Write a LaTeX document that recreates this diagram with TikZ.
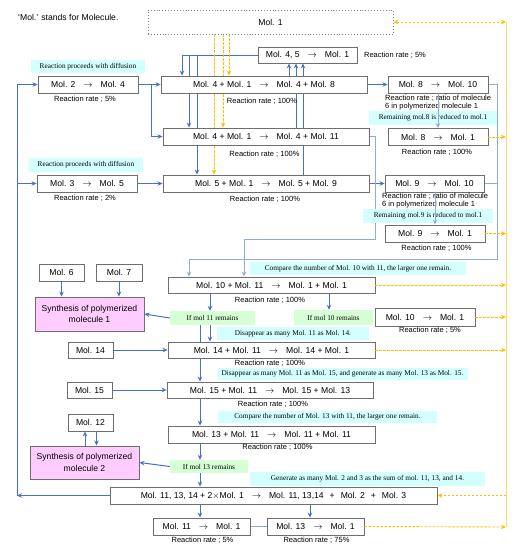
\documentclass[tikz,border=0pt]{standalone}
\usepackage{fontspec}
\setmainfont{Liberation Sans}
\newfontfamily\remarkfont{Liberation Serif}
\usetikzlibrary{arrows.meta,backgrounds}

\definecolor{flowblue}{RGB}{68,114,196}
\definecolor{paleblue}{RGB}{143,170,220}
\definecolor{flowgold}{RGB}{255,192,0}
\definecolor{linegold}{RGB}{255,217,102}
\definecolor{remarkcyan}{RGB}{212,255,255}
\definecolor{remarkgreen}{RGB}{214,255,214}
\definecolor{synthpink}{RGB}{255,204,255}
\definecolor{boxgray}{RGB}{110,110,110}

\newcommand{\yields}{\hspace{8pt}$\rightarrow$\hspace{8pt}}

\begin{document}
\begin{tikzpicture}[
    molbox/.style={draw=boxgray, fill=white, line width=0.9pt, minimum height=17pt, inner sep=0pt, font=\fontsize{8.6}{10}\selectfont},
    synthbox/.style={molbox, fill=synthpink, align=center, font=\fontsize{8.6}{11.5}\selectfont},
    ratetext/.style={inner sep=0pt, font=\fontsize{7.5}{8}\selectfont},
    cyanremark/.style={fill=remarkcyan, inner sep=0pt, minimum height=13pt, font=\remarkfont\fontsize{7.3}{8}\selectfont},
    greenremark/.style={cyanremark, fill=remarkgreen, minimum height=14pt},
    flow/.style={flowblue, line width=1pt, -{Stealth[length=5pt,width=4.5pt]}},
    paleflow/.style={paleblue, line width=0.9pt},
    goldflow/.style={flowgold, line width=0.9pt, dash pattern=on 2.5pt off 1.5pt, -{Stealth[length=5pt,width=4.5pt]}},
  ]
\useasboundingbox (0,0) rectangle (519pt,-550pt);

\node[anchor=west, inner sep=0pt, font=\fontsize{8.6}{10}\selectfont] (legend) at (18pt,-17pt) {`Mol.' stands for Molecule.};
\node[molbox, draw=gray, dotted, minimum width=245pt, minimum height=24pt] (mol1) at (270.5pt,-22pt) {Mol. 1};

% upper reactions
\node[molbox, minimum width=99pt, minimum height=16pt] (red45) at (307.5pt,-55pt) {Mol. 4, 5\yields Mol. 1};
\node[ratetext] (rate45) at (395pt,-55pt) {Reaction rate ; 5\%};
\node[cyanremark, minimum width=114pt] (diff2) at (88pt,-66.5pt) {Reaction proceeds with diffusion};
\node[molbox, minimum width=100pt] (mol24) at (88pt,-84.5pt) {Mol. 2\yields Mol. 4};
\node[ratetext] (rate24) at (85pt,-99pt) {Reaction rate ; 5\%};
\node[molbox, minimum width=206pt] (rxn48) at (264pt,-84.5pt) {Mol. 4 + Mol. 1\yields Mol. 4 + Mol. 8};
\node[ratetext] (rate48) at (262pt,-101pt) {Reaction rate ; 100\%};
\node[molbox, minimum width=100pt] (mol810) at (438pt,-84.5pt) {Mol. 8\yields Mol. 10};
\node[ratetext, anchor=north west, align=left] (rate810) at (385pt,-95pt) {Reaction rate ; ratio of molecule\\6 in polymerized molecule 1};
\node[cyanremark, minimum width=128pt, minimum height=14pt] (rest8) at (433pt,-118pt) {Remaining mol.8 is reduced to mol.1};
\node[molbox, minimum width=100pt] (mol81) at (438pt,-137pt) {Mol. 8\yields Mol. 1};
\node[ratetext] (rate81) at (437pt,-152pt) {Reaction rate ; 100\%};
\node[molbox, minimum width=206pt] (rxn411) at (266pt,-136.5pt) {Mol. 4 + Mol. 1\yields Mol. 4 + Mol. 11};
\node[ratetext] (rate411) at (264.5pt,-154pt) {Reaction rate ; 100\%};

\node[cyanremark, minimum width=114pt, minimum height=14pt] (diff3) at (86pt,-165pt) {Reaction proceeds with diffusion};
\node[molbox, minimum width=100pt] (mol35) at (87pt,-183.5pt) {Mol. 3\yields Mol. 5};
\node[ratetext] (rate35) at (85pt,-198pt) {Reaction rate ; 2\%};
\node[molbox, minimum width=206pt] (rxn59) at (266pt,-183.5pt) {Mol. 5 + Mol. 1\yields Mol. 5 + Mol. 9};
\node[ratetext] (rate59) at (265pt,-199pt) {Reaction rate ; 100\%};
\node[molbox, minimum width=99pt] (mol910) at (434.5pt,-183.5pt) {Mol. 9\yields Mol. 10};
\node[ratetext, anchor=north west, align=left] (rate910) at (382pt,-192.5pt) {Reaction rate ; ratio of molecule\\6 in polymerized molecule 1};
\node[cyanremark, minimum width=130pt, minimum height=14pt] (rest9) at (428pt,-216pt) {Remaining mol.9 is reduced to mol.1};
\node[molbox, minimum width=100pt] (mol91) at (435pt,-233.5pt) {Mol. 9\yields Mol. 1};
\node[ratetext] (rate91) at (436.5pt,-248pt) {Reaction rate ; 100\%};

% polymer 1
\node[cyanremark, minimum width=216pt] (cmp10) at (358pt,-268.5pt) {Compare the number of Mol. 10 with 11, the larger one remain.};
\node[molbox, minimum width=207pt, minimum height=16pt] (rxn1011) at (271.5pt,-285pt) {Mol. 10 + Mol. 11\yields Mol. 1 + Mol. 1};
\node[ratetext] (rate1011) at (270pt,-300pt) {Reaction rate ; 100\%};
\node[molbox, minimum width=45pt] (mol6) at (61.5pt,-272.5pt) {Mol. 6};
\node[molbox, minimum width=46pt] (mol7) at (119pt,-272.5pt) {Mol. 7};
\node[synthbox, minimum width=109pt, minimum height=34pt] (synth1) at (89.5pt,-314pt) {Synthesis of polymerized\\molecule 1};
\node[greenremark, minimum width=85pt] (if11) at (212.5pt,-318pt) {If mol 11 remains};
\node[greenremark, minimum width=79pt, minimum height=15pt] (if10) at (333.5pt,-317.5pt) {If mol 10 remains};
\node[molbox, minimum width=100pt, minimum height=18pt] (mol101) at (425pt,-317pt) {Mol. 10\yields Mol. 1};
\node[ratetext] (rate101) at (430pt,-330pt) {Reaction rate ; 5\%};

% consumption of mol 11
\node[cyanremark, minimum width=152pt] (gone14) at (293pt,-333.5pt) {Disappear as many Mol. 11 as Mol. 14.};
\node[molbox, minimum width=45pt, minimum height=16pt] (mol14) at (90.5pt,-350pt) {Mol. 14};
\node[molbox, minimum width=207pt, minimum height=16pt] (rxn14) at (271.5pt,-350pt) {Mol. 14 + Mol. 11\yields Mol. 14 + Mol. 1};
\node[ratetext] (rate14) at (270pt,-363pt) {Reaction rate ; 100\%};
\node[cyanremark, minimum width=250pt, minimum height=12pt] (gone15) at (342.5pt,-374pt) {Disappear as many Mol. 11 as Mol. 15, and generate as many Mol. 13 as Mol. 15.};
\node[molbox, minimum width=45pt, minimum height=16pt] (mol15) at (89.5pt,-390pt) {Mol. 15};
\node[molbox, minimum width=206pt, minimum height=16pt] (rxn15) at (270pt,-390pt) {Mol. 15 + Mol. 11\yields Mol. 15 + Mol. 13};
\node[ratetext] (rate15) at (273pt,-404pt) {Reaction rate ; 100\%};
\node[cyanremark, minimum width=219pt, minimum height=12pt] (cmp13) at (327.5pt,-417pt) {Compare the number of Mol. 13 with 11, the larger one remain.};
\node[molbox, minimum width=45pt] (mol12) at (90.5pt,-422.5pt) {Mol. 12};
\node[molbox, minimum width=207pt] (rxn13) at (271.5pt,-434.5pt) {Mol. 13 + Mol. 11\yields Mol. 11 + Mol. 11};
\node[ratetext] (rate13) at (277.5pt,-447pt) {Reaction rate ; 100\%};

% polymer 2 and recycling
\node[synthbox, minimum width=109pt, minimum height=33pt] (synth2) at (84.5pt,-462.5pt) {Synthesis of polymerized\\molecule 2};
\node[greenremark, minimum width=78pt, minimum height=13pt] (if13) at (209pt,-466.5pt) {If mol 13 remains};
\node[cyanremark, minimum width=235pt, minimum height=14pt] (regen) at (367.5pt,-479pt) {Generate as many Mol. 2 and 3 as the sum of mol. 11, 13, and 14.};
\node[molbox, minimum width=327pt] (recycle) at (273.5pt,-495.5pt) {Mol. 11, 13, 14 + 2$\times$Mol. 1\yields Mol. 11, 13,14\hspace{6pt}+\hspace{6pt}Mol. 2\hspace{6pt}+\hspace{6pt}Mol. 3};
\node[molbox, minimum width=97pt] (mol111) at (201.5pt,-526.5pt) {Mol. 11\yields Mol. 1};
\node[ratetext] (rate111) at (202.5pt,-540pt) {Reaction rate ; 5\%};
\node[molbox, minimum width=97pt] (mol131) at (315.5pt,-526.5pt) {Mol. 13\yields Mol. 1};
\node[ratetext] (rate131) at (316.5pt,-540pt) {Reaction rate ; 75\%};

% columns and rows of the connectors
\coordinate (backx) at (17pt,0);
\coordinate (forkx) at (151pt,0);
\coordinate (ret1) at (182pt,0);
\coordinate (ret2) at (189pt,0);
\coordinate (ret3) at (197pt,0);
\coordinate (up1) at (289pt,0);
\coordinate (up2) at (296pt,0);
\coordinate (up3) at (303pt,0);
\coordinate (feed1) at (229pt,0);
\coordinate (feed2) at (223pt,0);
\coordinate (feed3) at (214pt,0);
\coordinate (sidex) at (497pt,0);
\coordinate (mol11x) at (375pt,0);
\coordinate (into11) at (244pt,0);
\coordinate (into10) at (189pt,0);
\coordinate (row11) at (0,-239pt);
\coordinate (row10) at (0,-259pt);
\coordinate (left11) at (210pt,0);
\coordinate (left10) at (329pt,0);
\coordinate (mainx) at (200pt,0);
\coordinate (to13x) at (310pt,0);
\coordinate (goldtop) at (506pt,-22pt);
\coordinate (goldbot) at (506pt,-527pt);

\begin{scope}[on background layer]
  % blue flow
  \draw[flow] (recycle.west) -- (recycle.west -| backx);
  \draw[flow] (recycle.west -| backx) -- (mol24.west -| backx) -- (mol24.west);
  \draw[flow] (mol35.west -| backx) -- (mol35.west);
  \draw[flow] (mol24.east) -- (rxn48.west);
  \draw[flow] (mol24.east -| forkx) -- (rxn411.west -| forkx) -- (rxn411.west);
  \draw[flow] (mol35.east) -- (rxn59.west);
  \draw[flow] (red45.west) -- (red45.west -| ret1) -- (rxn48.north -| ret1);
  \draw[flow] (red45.west -| ret2) -- (rxn411.north -| ret2);
  \draw[flow] (red45.west -| ret3) -- (rxn59.north -| ret3);
  \draw[flow] (rxn48.north -| up1) -- (red45.south -| up1);
  \draw[flow] (rxn411.north -| up2) -- (red45.south -| up2);
  \draw[flow] (rxn59.north -| up3) -- (red45.south -| up3);
  \draw[flow] (rxn48.east) -- (mol810.west);
  \draw[flow] (rxn59.east) -- (mol910.west);
  \draw[paleflow, -{Stealth[length=5pt,width=4.5pt]}] (mol810.east) -- (mol810.east -| sidex) -- (row10 -| sidex) -- (row10 -| into10) -- (rxn1011.north -| into10);
  \draw[paleflow] (mol910.east) -- (mol910.east -| sidex);
  \draw[paleflow, -{Stealth[length=5pt,width=4.5pt]}] (rxn411.east) -- (rxn411.east -| mol11x) -- (row11 -| mol11x) -- (row11 -| into11) -- (rxn1011.north -| into11);
  \draw[flow] (rxn1011.south -| left11) -- (if11.north -| left11);
  \draw[flow] (rxn1011.south -| left10) -- (if10.north -| left10);
  \draw[flow] (if11.west) -- (synth1.east);
  \draw[flow] (if11.south -| left11) -- (rxn14.north -| left11);
  \draw[flowblue, line width=1pt] (if11.south -| mainx) -- (rxn14.north -| mainx);
  \draw[flow] (mol6) -- (synth1.north -| mol6);
  \draw[flow] (mol7) -- (synth1.north -| mol7);
  \draw[flow] (mol14) -- (rxn14.west);
  \draw[flow] (rxn14.south -| mainx) -- (rxn15.north -| mainx);
  \draw[flow] (mol15) -- (rxn15.west);
  \draw[flow] (rxn15.south -| mainx) -- (rxn13.north -| mainx);
  \draw[flow] (rxn13.south -| mainx) -- (if13.north -| mainx);
  \draw[flow] (if13.west) -- (synth2.east);
  \draw[flow] ([xshift=-5.5pt]synth2.north -| mol12) -- ([xshift=-5.5pt]mol12.south);
  \draw[flow] ([xshift=6pt]mol12.south) -- ([xshift=6pt]synth2.north -| mol12);
  \draw[flow] (if13.south -| mainx) -- (recycle.north -| mainx);
  \draw[flow] (recycle.south -| mainx) -- (mol111.north -| mainx);
  \draw[flow] (recycle.south -| to13x) -- (mol131.north -| to13x);
  \draw[paleflow] (mol111) -- (mol131);
  % gold flow of mol 1
  \draw[goldflow] (mol1.south -| feed1) -- (rxn48.north -| feed1);
  \draw[goldflow] (mol1.south -| feed2) -- (rxn411.north -| feed2);
  \draw[goldflow] (mol1.south -| feed3) -- (rxn59.north -| feed3);
  \draw[linegold, line width=0.9pt] (goldtop) -- (goldbot);
\end{scope}

\draw[paleflow, -{Stealth[length=5pt,width=4.5pt]}] (mol810) -- (mol81);
\draw[paleflow, -{Stealth[length=5pt,width=4.5pt]}] (mol910.south -| mol91) -- (mol91);
\draw[goldflow, {Stealth[length=5pt,width=4.5pt]}-{Stealth[length=5pt,width=4.5pt]}] (mol1.east) -- (goldtop);
\draw[goldflow] (mol81.east) -- (mol81.east -| goldtop);
\draw[goldflow] (mol91.east) -- (mol91.east -| goldtop);
\draw[goldflow] (rxn1011.east) -- (rxn1011.east -| goldtop);
\draw[goldflow] (mol101.east) -- (mol101.east -| goldtop);
\draw[goldflow] (rxn14.east) -- (rxn14.east -| goldtop);
\draw[goldflow] (mol131.east) -- (goldbot);
\draw[goldflow] (recycle.east -| goldtop) -- (recycle.east);
\end{tikzpicture}
\end{document}
